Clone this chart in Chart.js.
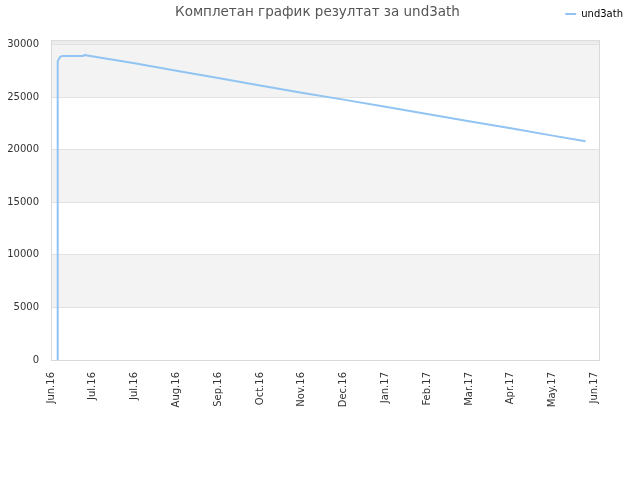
<!DOCTYPE html>
<html lang="sr">
<head>
  <meta charset="UTF-8" />
  <title>und3ath</title>
  <script src="https://cdn.jsdelivr.net/npm/chart.js"></script>
  <style>
    html, body { margin: 0; padding: 0; background: #fff; }
    #wrap { width: 640px; height: 480px; }
  </style>
</head>
<body>
  <div id="wrap"><canvas id="resultChart" width="640" height="480"></canvas></div>

  <script>
    // days counted from the first tick (Jun.16)
    const xTickDays = [0, 30, 60, 90, 120, 150, 180, 210, 240, 270, 300, 330, 360, 390];
    const xLabels = ["Jun.16", "Jul.16", "Jul.16", "Aug.16", "Sep.16", "Oct.16", "Nov.16",
                     "Dec.16", "Jan.17", "Feb.17", "Mar.17", "Apr.17", "May.17", "Jun.17"];
    const yTicks = [0, 5000, 10000, 15000, 20000, 25000, 30000];

    const seriesName = "und3ath";
    const days =   [4.8, 4.8,   6.5,   8,     23,    24.5,  26,    60,    90,    120,   150,   180,   210,   240,   270,   300,   330,   360,   383.6];
    const scores = [0,   28400, 28800, 28900, 28900, 29000, 28950, 28200, 27500, 26800, 26100, 25400, 24750, 24070, 23380, 22700, 22020, 21330, 20790];

    const points = days.map((d, i) => ({ x: d, y: scores[i] }));

    // alternating bands + frame round the plot area
    const bandsPlugin = {
      id: "bands",
      beforeDraw(chart) {
        const { ctx, chartArea: a, scales: { y } } = chart;
        ctx.save();
        for (let i = 0; i < yTicks.length; i++) {
          const lo = yTicks[i];
          const hi = i + 1 < yTicks.length ? yTicks[i + 1] : y.max;
          let fill = null;
          if (i === yTicks.length - 1) fill = "#ededed";
          else if (i % 2 === 1) fill = "#f3f3f3";
          if (!fill) continue;
          const top = y.getPixelForValue(hi);
          const bot = y.getPixelForValue(lo);
          ctx.fillStyle = fill;
          ctx.fillRect(a.left, top, a.right - a.left, bot - top);
        }
        ctx.restore();
      },
      afterDatasetsDraw(chart) {
        const { ctx, chartArea: a } = chart;
        ctx.save();
        ctx.strokeStyle = "#d9d9d9";
        ctx.lineWidth = 1;
        ctx.strokeRect(a.left + 0.5, a.top + 0.5, a.right - a.left - 1, a.bottom - a.top);
        ctx.restore();
      }
    };

    // legend on the title row (top right), title centred on the page
    const headerRow = {
      id: "headerRow",
      afterInit(chart) {
        const lg = chart.legend;
        const fit = lg.fit;
        lg.fit = function () { fit.call(this); this.height = 0; };
      },
      afterLayout(chart) {
        const lg = chart.legend;
        lg.top = 1;
        lg.bottom = 25;
        lg.left = 0;
        lg.right = 631;
        const t = chart.titleBlock;
        t.left = 0;
        t.right = 635;
      }
    };

    new Chart(document.getElementById("resultChart"), {
      type: "line",
      data: {
        datasets: [{
          label: seriesName,
          data: points,
          borderColor: "rgb(145, 196, 243)",
          backgroundColor: "rgb(145, 196, 243)",
          borderWidth: 2,
          pointRadius: 0,
          tension: 0,
          fill: false
        }]
      },
      options: {
        responsive: false,
        animation: false,
        layout: { padding: { left: 0, right: 40, top: 0, bottom: 0 } },
        plugins: {
          tooltip: { enabled: false },
          title: {
            display: true,
            text: "Комплетан график резултат за und3ath",
            color: "#555",
            font: { family: "DejaVu Sans", size: 13.5, weight: "normal", lineHeight: 1.2 },
            padding: { top: 4, bottom: 20 }
          },
          legend: {
            display: true,
            position: "top",
            align: "end",
            labels: {
              color: "#000",
              font: { family: "DejaVu Sans", size: 10 },
              boxWidth: 11,
              boxHeight: 2,
              padding: 8,
              generateLabels: (chart) =>
                Chart.defaults.plugins.legend.labels.generateLabels(chart)
                  .map(l => ({ ...l, lineWidth: 0 }))
            }
          }
        },
        scales: {
          x: {
            type: "linear",
            min: 0,
            max: 394,
            afterBuildTicks: (axis) => { axis.ticks = xTickDays.map(v => ({ value: v })); },
            afterFit: (axis) => { axis.height = 120; },
            grid: { display: false, drawTicks: false },
            border: { display: false },
            ticks: {
              autoSkip: false,
              minRotation: 90,
              maxRotation: 90,
              padding: 12,
              color: "#333",
              font: { family: "DejaVu Sans", size: 10 },
              callback: (value, index) => xLabels[index]
            }
          },
          y: {
            min: 0,
            max: 30400,
            afterBuildTicks: (axis) => { axis.ticks = yTicks.map(v => ({ value: v })); },
            afterFit: (axis) => { axis.width = 51; },
            grid: { color: "#e2e2e2", drawTicks: false },
            border: { display: false },
            ticks: {
              padding: 12,
              color: "#333",
              font: { family: "DejaVu Sans", size: 10 },
              callback: (value) => String(value)
            }
          }
        }
      },
      plugins: [bandsPlugin, headerRow]
    });
  </script>
</body>
</html>
